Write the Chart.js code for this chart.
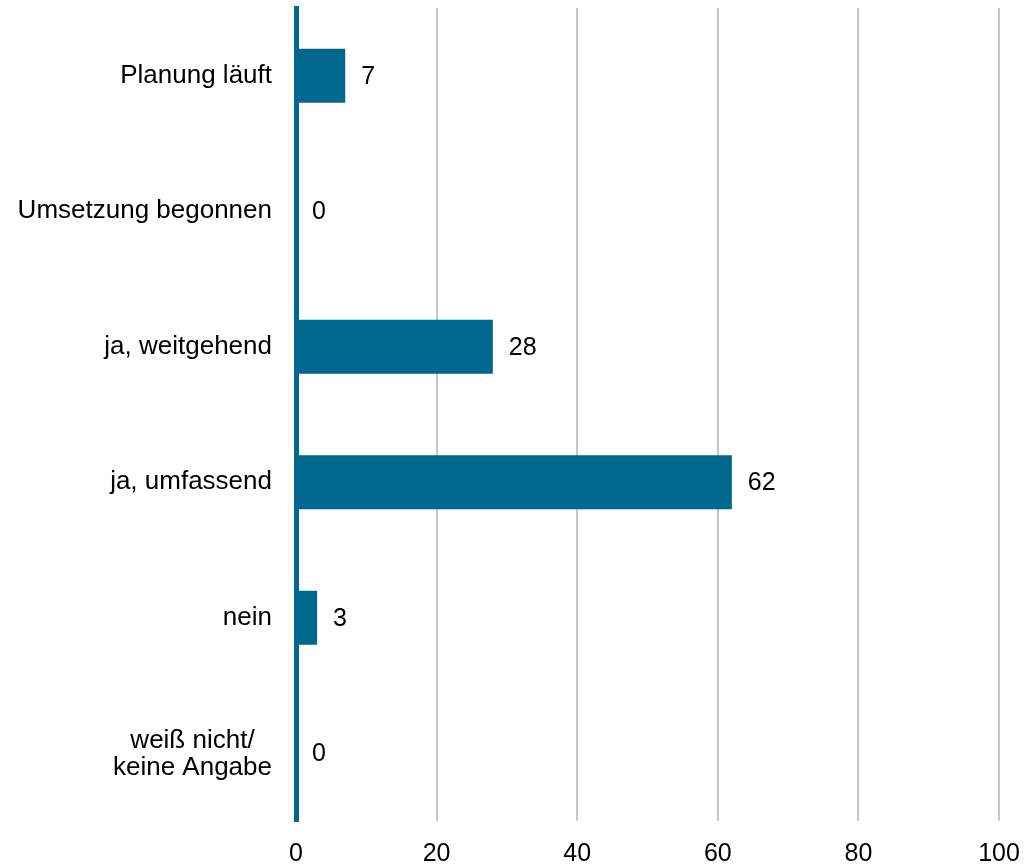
<!DOCTYPE html>
<html lang="de">
<head>
<meta charset="utf-8">
<title>Umsetzung</title>
<script src="https://cdn.jsdelivr.net/npm/chart.js@4/dist/chart.umd.min.js"></script>
<style>
  html, body { margin: 0; padding: 0; background: #fff; }
  #wrap { width: 1024px; height: 866px; position: relative; }
</style>
</head>
<body>
<div id="wrap"><canvas id="myChart"></canvas></div>
<script>
// categories and values (percent)
const categories = [
  "Planung läuft",
  "Umsetzung begonnen",
  "ja, weitgehend",
  "ja, umfassend",
  "nein",
  ["weiß nicht/", "keine Angabe"]
];
const values = [7, 0, 28, 62, 3, 0];
const xTicks = [0, 20, 40, 60, 80, 100];

const barColor = "#00688f";
const fontFamily = "'Liberation Sans', Arial, sans-serif";
const labelFont = "26px " + fontFamily;
const labelGap = 24;

// writes the value to the right of each bar
const valueLabels = {
  id: "valueLabels",
  afterDatasetsDraw(chart) {
    const ctx = chart.ctx;
    const meta = chart.getDatasetMeta(0);
    ctx.save();
    ctx.font = "25px " + fontFamily;
    ctx.fillStyle = "#000";
    ctx.textAlign = "left";
    ctx.textBaseline = "middle";
    meta.data.forEach((bar, i) => {
      ctx.fillText(String(values[i]), bar.x + 16, bar.y + 1);
    });
    ctx.restore();
  }
};

// two-line category labels: lines centred on each other, block right-aligned
const multiLineLabels = {
  id: "multiLineLabels",
  afterDraw(chart) {
    const ctx = chart.ctx;
    const yScale = chart.scales.y;
    const right = chart.chartArea.left - labelGap;
    const lineH = 27;
    ctx.save();
    ctx.font = labelFont;
    ctx.fillStyle = "#000";
    ctx.textAlign = "center";
    ctx.textBaseline = "middle";
    categories.forEach((label, i) => {
      if (!Array.isArray(label)) return;
      const widest = Math.max(...label.map(l => ctx.measureText(l).width));
      const cx = right - widest / 2;
      const cy = yScale.getPixelForTick(i) + 1;
      label.forEach((line, j) => {
        ctx.fillText(line, cx, cy + (j - (label.length - 1) / 2) * lineH);
      });
    });
    ctx.restore();
  }
};

const data = {
  labels: categories,
  datasets: [{
    data: values,
    backgroundColor: barColor,
    barPercentage: 0.4,
    categoryPercentage: 1
  }]
};

const config = {
  type: "bar",
  data: data,
  options: {
    indexAxis: "y",
    responsive: true,
    maintainAspectRatio: false,
    animation: false,
    layout: { padding: { left: 0, right: 25, top: 8, bottom: 0 } },
    plugins: {
      legend: { display: false },
      tooltip: { enabled: false }
    },
    scales: {
      x: {
        min: 0,
        max: 100,
        afterBuildTicks(scale) {
          scale.ticks = xTicks.map(v => ({ value: v }));
        },
        border: { display: false },
        grid: {
          drawTicks: false,
          lineWidth: 2,
          color: ctx => ctx.tick && ctx.tick.value === 0 ? "rgba(0,0,0,0)" : "#c8c8c8"
        },
        ticks: {
          padding: 18,
          color: "#000",
          font: { family: fontFamily, size: 25 },
          maxRotation: 0
        },
        afterFit(scale) {
          scale.height = 45;
          scale.paddingLeft = 0;
          scale.paddingRight = 0;
        }
      },
      y: {
        border: { display: true, color: barColor, width: 5 },
        grid: { display: false, drawTicks: false },
        ticks: {
          padding: labelGap,
          color: "#000",
          font: { family: fontFamily, size: 26 },
          callback: (value, i) => Array.isArray(categories[i]) ? "" : categories[i]
        },
        afterFit(scale) {
          scale.width = 296;
          scale.paddingTop = 0;
          scale.paddingBottom = 0;
        }
      }
    }
  },
  plugins: [valueLabels, multiLineLabels]
};

const myChart = new Chart(document.getElementById("myChart"), config);
</script>
</body>
</html>
